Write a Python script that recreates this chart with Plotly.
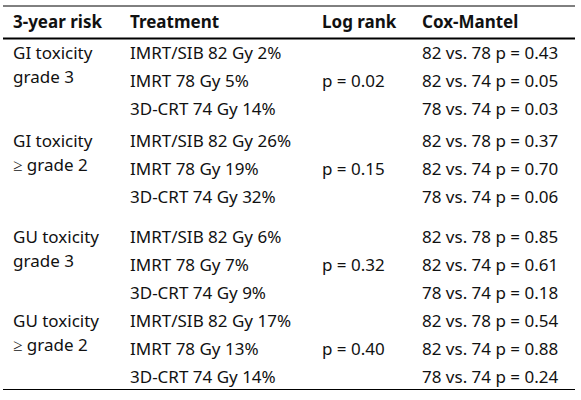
import plotly.graph_objects as go

headers = ["3-year risk", "Treatment", "Log rank", "Cox-Mantel"]
risk_groups = [["GI toxicity", "grade 3"], ["GI toxicity", "≥ grade 2"],
               ["GU toxicity", "grade 3"], ["GU toxicity", "≥ grade 2"]]
treatments = [
    ["IMRT/SIB 82 Gy 2%", "IMRT 78 Gy 5%", "3D-CRT 74 Gy 14%"],
    ["IMRT/SIB 82 Gy 26%", "IMRT 78 Gy 19%", "3D-CRT 74 Gy 32%"],
    ["IMRT/SIB 82 Gy 6%", "IMRT 78 Gy 7%", "3D-CRT 74 Gy 9%"],
    ["IMRT/SIB 82 Gy 17%", "IMRT 78 Gy 13%", "3D-CRT 74 Gy 14%"],
]
log_rank = ["p = 0.02", "p = 0.15", "p = 0.32", "p = 0.40"]
cox_mantel = [
    ["82 vs. 78 p = 0.43", "82 vs. 74 p = 0.05", "78 vs. 74 p = 0.03"],
    ["82 vs. 78 p = 0.37", "82 vs. 74 p = 0.70", "78 vs. 74 p = 0.06"],
    ["82 vs. 78 p = 0.85", "82 vs. 74 p = 0.61", "78 vs. 74 p = 0.18"],
    ["82 vs. 78 p = 0.54", "82 vs. 74 p = 0.88", "78 vs. 74 p = 0.24"],
]

# layout (pixel coordinates)
col_x = [13, 130, 322, 422]
group_top = [54.5, 142.5, 238.5, 323]
row_step = 28
sub_step = 24
header_y = 23.5
FONT = "Noto Sans"
SIZE = 17
COLOR = "#111111"

xs, ys, ts = [], [], []
for i, h in enumerate(headers):
    xs.append(col_x[i]); ys.append(header_y); ts.append("<b>" + h + "</b>")
for g in range(4):
    y0 = group_top[g]
    for k, line in enumerate(risk_groups[g]):
        xs.append(col_x[0]); ys.append(y0 + k * sub_step); ts.append(line)
    for r in range(3):
        xs.append(col_x[1]); ys.append(y0 + r * row_step); ts.append(treatments[g][r])
        xs.append(col_x[3]); ys.append(y0 + r * row_step); ts.append(cox_mantel[g][r])
    xs.append(col_x[2]); ys.append(y0 + row_step); ts.append(log_rank[g])

fig = go.Figure(go.Scatter(x=xs, y=ys, text=ts, mode="text", textposition="middle right",
                           textfont=dict(family=FONT, size=SIZE, color=COLOR),
                           hoverinfo="skip", showlegend=False))

fig.update_layout(
    width=581, height=400, margin=dict(l=0, r=0, t=0, b=0),
    plot_bgcolor="white", paper_bgcolor="white",
    xaxis=dict(range=[0, 581], visible=False, fixedrange=True),
    yaxis=dict(range=[400, 0], visible=False, fixedrange=True),
    shapes=[
        dict(type="line", x0=3, x1=575, y0=6, y1=6, line=dict(color="black", width=1)),
        dict(type="line", x0=3, x1=575, y0=38.5, y1=38.5, line=dict(color="black", width=2)),
        dict(type="line", x0=3, x1=575, y0=389.5, y1=389.5, line=dict(color="black", width=1.2)),
    ],
)
fig.write_html("out.html", config={"displayModeBar": False},
               post_script="document.body.style.margin='0';document.body.style.overflow='hidden';")
